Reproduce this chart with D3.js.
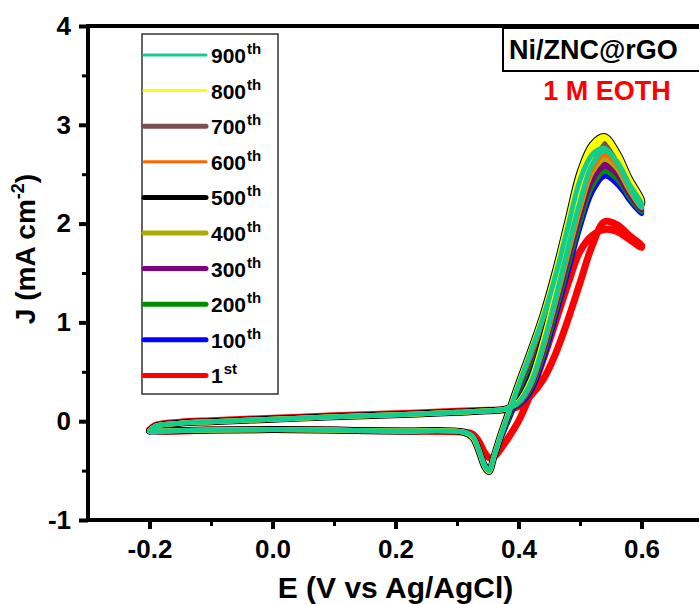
<!DOCTYPE html>
<html>
<head>
<meta charset="utf-8">
<script src="https://cdn.jsdelivr.net/npm/d3@7.9.0/dist/d3.min.js"></script>
<style>
  body { margin: 0; background: #fff; }
  text { font-family: "Liberation Sans", Arial, sans-serif; font-weight: bold; }
</style>
</head>
<body>
<div id="chart"></div>
<script>
// potential grids (V vs Ag/AgCl), forward then reverse scan
const eFwd = [-0.2, -0.19, -0.15, -0.1, 0, 0.1, 0.2, 0.3, 0.35, 0.38, 0.40, 0.42, 0.44, 0.46, 0.48, 0.50, 0.52, 0.54, 0.56, 0.58, 0.60];
const eRev = [0.60, 0.58, 0.56, 0.54, 0.52, 0.50, 0.48, 0.46, 0.44, 0.42, 0.40, 0.38, 0.37, 0.36, 0.352, 0.345, 0.335, 0.325, 0.31, 0.2, 0.1, 0, -0.1, -0.18, -0.2];

// current density (mA cm-2) per cycle
const j1Fwd   = [-0.09, -0.04, -0.01, 0.005, 0.03, 0.055, 0.075, 0.1, 0.11, 0.12, 0.15, 0.26, 0.42, 0.68, 1.02, 1.4, 1.78, 2.02, 1.99, 1.88, 1.78];
const j1Rev   = [1.76, 1.84, 1.92, 1.94, 1.88, 1.72, 1.38, 1.0, 0.62, 0.28, 0.0, -0.2, -0.29, -0.36, -0.37, -0.32, -0.2, -0.13, -0.11, -0.1, -0.09, -0.085, -0.09, -0.1, -0.09];
const j100Fwd = [-0.1, -0.05, -0.02, -0.005, 0.02, 0.045, 0.065, 0.09, 0.105, 0.125, 0.16, 0.3, 0.62, 1.05, 1.5, 1.96, 2.32, 2.48, 2.4, 2.25, 2.12];
const j100Rev = [2.1, 2.24, 2.42, 2.52, 2.46, 2.2, 1.75, 1.28, 0.88, 0.55, 0.25, -0.05, -0.2, -0.38, -0.48, -0.43, -0.27, -0.15, -0.11, -0.1, -0.09, -0.085, -0.09, -0.1, -0.1];
const j200Fwd = [-0.1, -0.05, -0.02, -0.005, 0.02, 0.045, 0.065, 0.09, 0.105, 0.125, 0.17, 0.33, 0.66, 1.1, 1.56, 2.02, 2.38, 2.53, 2.45, 2.28, 2.14];
const j200Rev = [2.12, 2.27, 2.46, 2.57, 2.51, 2.26, 1.8, 1.33, 0.93, 0.6, 0.3, -0.03, -0.19, -0.37, -0.49, -0.44, -0.27, -0.15, -0.11, -0.1, -0.09, -0.085, -0.09, -0.1, -0.1];
const j300Fwd = [-0.1, -0.05, -0.02, -0.005, 0.02, 0.045, 0.065, 0.09, 0.105, 0.125, 0.17, 0.35, 0.7, 1.15, 1.62, 2.08, 2.44, 2.58, 2.5, 2.32, 2.16];
const j300Rev = [2.14, 2.3, 2.5, 2.62, 2.57, 2.32, 1.86, 1.38, 0.98, 0.64, 0.33, -0.01, -0.18, -0.37, -0.49, -0.44, -0.28, -0.15, -0.11, -0.1, -0.09, -0.085, -0.09, -0.1, -0.1];
const j400Fwd = [-0.1, -0.05, -0.02, -0.005, 0.02, 0.045, 0.065, 0.09, 0.105, 0.125, 0.18, 0.37, 0.74, 1.2, 1.68, 2.15, 2.52, 2.65, 2.56, 2.36, 2.18];
const j400Rev = [2.16, 2.34, 2.56, 2.68, 2.64, 2.38, 1.92, 1.43, 1.02, 0.67, 0.35, 0.0, -0.17, -0.36, -0.5, -0.45, -0.28, -0.15, -0.11, -0.1, -0.09, -0.085, -0.09, -0.1, -0.1];
const j500Fwd = [-0.1, -0.05, -0.02, -0.005, 0.02, 0.045, 0.065, 0.09, 0.105, 0.125, 0.2, 0.42, 0.82, 1.3, 1.82, 2.32, 2.7, 2.86, 2.72, 2.46, 2.24];
const j500Rev = [2.2, 2.45, 2.72, 2.88, 2.8, 2.52, 2.02, 1.52, 1.08, 0.72, 0.38, 0.02, -0.16, -0.36, -0.51, -0.46, -0.29, -0.16, -0.11, -0.1, -0.09, -0.085, -0.09, -0.1, -0.1];
const j600Fwd = [-0.1, -0.05, -0.02, -0.005, 0.02, 0.045, 0.065, 0.09, 0.105, 0.125, 0.19, 0.39, 0.77, 1.24, 1.72, 2.2, 2.56, 2.7, 2.6, 2.4, 2.2];
const j600Rev = [2.18, 2.37, 2.6, 2.72, 2.68, 2.42, 1.95, 1.46, 1.04, 0.69, 0.36, 0.01, -0.17, -0.36, -0.5, -0.45, -0.28, -0.15, -0.11, -0.1, -0.09, -0.085, -0.09, -0.1, -0.1];
const j700Fwd = [-0.1, -0.05, -0.02, -0.005, 0.02, 0.045, 0.065, 0.09, 0.105, 0.125, 0.19, 0.4, 0.79, 1.27, 1.77, 2.26, 2.64, 2.78, 2.66, 2.43, 2.22];
const j700Rev = [2.19, 2.41, 2.66, 2.8, 2.74, 2.47, 1.99, 1.5, 1.07, 0.71, 0.37, 0.02, -0.16, -0.36, -0.5, -0.45, -0.28, -0.15, -0.11, -0.1, -0.09, -0.085, -0.09, -0.1, -0.1];
const j800Fwd = [-0.1, -0.05, -0.02, -0.005, 0.02, 0.045, 0.065, 0.09, 0.105, 0.125, 0.2, 0.42, 0.82, 1.3, 1.82, 2.32, 2.7, 2.86, 2.72, 2.46, 2.24];
const j800Rev = [2.2, 2.45, 2.72, 2.88, 2.8, 2.52, 2.02, 1.52, 1.08, 0.72, 0.38, 0.02, -0.16, -0.36, -0.51, -0.46, -0.29, -0.16, -0.11, -0.1, -0.09, -0.085, -0.09, -0.1, -0.1];
const j900Fwd = [-0.1, -0.05, -0.02, -0.005, 0.02, 0.045, 0.065, 0.09, 0.105, 0.125, 0.19, 0.39, 0.77, 1.24, 1.74, 2.22, 2.6, 2.74, 2.63, 2.4, 2.2];
const j900Rev = [2.17, 2.38, 2.62, 2.76, 2.7, 2.44, 1.96, 1.47, 1.05, 0.7, 0.36, 0.01, -0.17, -0.36, -0.5, -0.45, -0.28, -0.15, -0.11, -0.1, -0.09, -0.085, -0.09, -0.1, -0.1];

// cycles in drawing order (1st drawn first, 900th on top)
const cycleNum = ["1", "100", "200", "300", "400", "500", "600", "700", "800", "900"];
const cycleSup = ["st", "th", "th", "th", "th", "th", "th", "th", "th", "th"];
const cycleFwd = [j1Fwd, j100Fwd, j200Fwd, j300Fwd, j400Fwd, j500Fwd, j600Fwd, j700Fwd, j800Fwd, j900Fwd];
const cycleRev = [j1Rev, j100Rev, j200Rev, j300Rev, j400Rev, j500Rev, j600Rev, j700Rev, j800Rev, j900Rev];
const colors = ["#ff0000", "#0000ff", "#008c00", "#800080", "#adad00", "#000000", "#ff6600", "#7f4f4f", "#ffff00", "#14cc8c"];
const curveWidths = [7, 5, 5, 5, 5, 7, 5, 5, 5, 5];
const legendWidths = [5, 5, 5, 5, 5, 5, 3, 5, 3, 3];

const xTicks = [-0.2, 0.0, 0.2, 0.4, 0.6];
const xMinor = [-0.1, 0.1, 0.3, 0.5];
const yTicks = [-1, 0, 1, 2, 3, 4];
const yMinor = [-0.5, 0.5, 1.5, 2.5, 3.5];

const W = 699, H = 604;
const m = { left: 88, top: 26, right: 703, bottom: 520 };

const svg = d3.select("#chart").append("svg")
  .attr("width", W).attr("height", H)
  .style("display", "block");

const x = d3.scaleLinear().domain([-0.3, 0.7]).range([m.left, m.right]);
const y = d3.scaleLinear().domain([-1, 4]).range([m.bottom, m.top]);

// minor ticks
svg.append("g").attr("transform", `translate(0,${m.bottom})`)
  .call(d3.axisBottom(x).tickValues(xMinor).tickSize(6).tickFormat(""))
  .call(g => g.select(".domain").remove())
  .call(g => g.selectAll("line").attr("stroke-width", 3));
svg.append("g").attr("transform", `translate(${m.left},0)`)
  .call(d3.axisLeft(y).tickValues(yMinor).tickSize(6).tickFormat(""))
  .call(g => g.select(".domain").remove())
  .call(g => g.selectAll("line").attr("stroke-width", 3));

// major ticks
const fmt = d => (d < 0 ? "-" : "") + d3.format(".1f")(Math.abs(d));
svg.append("g").attr("transform", `translate(0,${m.bottom})`)
  .call(d3.axisBottom(x).tickValues(xTicks).tickSize(9).tickPadding(11).tickFormat(fmt))
  .call(g => g.select(".domain").remove())
  .call(g => g.selectAll("line").attr("stroke-width", 4))
  .call(g => g.selectAll("text").attr("font-size", 26).attr("fill", "#000")
    .style("font-family", "'Liberation Sans', Arial, sans-serif").style("font-weight", "bold"));
svg.append("g").attr("transform", `translate(${m.left},0)`)
  .call(d3.axisLeft(y).tickValues(yTicks).tickSize(9).tickPadding(8).tickFormat(d => (d < 0 ? "-" : "") + Math.abs(d)))
  .call(g => g.select(".domain").remove())
  .call(g => g.selectAll("line").attr("stroke-width", 4))
  .call(g => g.selectAll("text").attr("font-size", 26).attr("fill", "#000")
    .style("font-family", "'Liberation Sans', Arial, sans-serif").style("font-weight", "bold"));

// frame
svg.append("rect")
  .attr("x", m.left).attr("y", m.top)
  .attr("width", m.right - m.left).attr("height", m.bottom - m.top)
  .attr("fill", "none").attr("stroke", "#000").attr("stroke-width", 4);

// CV curves
const line = d3.line()
  .x(d => x(d[0])).y(d => y(d[1]))
  .curve(d3.curveCatmullRom.alpha(0.5));

cycleNum.forEach((c, i) => {
  const pts = eFwd.map((e, k) => [e, cycleFwd[i][k]])
    .concat(eRev.map((e, k) => [e, cycleRev[i][k]]));
  svg.append("path")
    .datum(pts)
    .attr("d", line)
    .attr("fill", "none")
    .attr("stroke", colors[i])
    .attr("stroke-width", curveWidths[i])
    .attr("stroke-linejoin", "round")
    .attr("stroke-linecap", "round");
});

// legend (900th at top)
const lg = svg.append("g");
lg.append("rect")
  .attr("x", 142).attr("y", 34).attr("width", 136).attr("height", 360)
  .attr("fill", "#fff").attr("stroke", "#333").attr("stroke-width", 1.5);

const order = d3.range(cycleNum.length).reverse();
order.forEach((i, row) => {
  const ly = 55 + row * 35.6;
  lg.append("line")
    .attr("x1", 144).attr("x2", 206).attr("y1", ly).attr("y2", ly)
    .attr("stroke", colors[i]).attr("stroke-width", legendWidths[i])
    .attr("stroke-linecap", "round");
  const t = lg.append("text")
    .attr("x", 211).attr("y", ly + 8)
    .attr("font-size", 21);
  t.append("tspan").text(cycleNum[i]);
  t.append("tspan").attr("font-size", 15).attr("dx", 1).attr("dy", -9).text(cycleSup[i]);
});

// sample label
svg.append("rect")
  .attr("x", 503).attr("y", 28).attr("width", 220).attr("height", 43)
  .attr("fill", "#fff").attr("stroke", "#000").attr("stroke-width", 2);
svg.append("text")
  .attr("x", 509).attr("y", 59)
  .attr("font-size", 27)
  .text("Ni/ZNC@rGO");
svg.append("text")
  .attr("x", 607).attr("y", 100)
  .attr("text-anchor", "middle")
  .attr("font-size", 27)
  .attr("fill", "#ff0000")
  .text("1 M EOTH");

// axis titles
svg.append("text")
  .attr("x", x(0.2)).attr("y", 598)
  .attr("text-anchor", "middle")
  .attr("font-size", 30)
  .text("E (V vs Ag/AgCl)");

const yl = svg.append("text")
  .attr("transform", "translate(35,249) rotate(-90)")
  .attr("text-anchor", "middle")
  .attr("font-size", 28);
yl.append("tspan").text("J (mA cm");
yl.append("tspan").attr("font-size", 18).attr("dy", -11).text("-2");
yl.append("tspan").attr("dy", 11).text(")");
</script>
</body>
</html>
